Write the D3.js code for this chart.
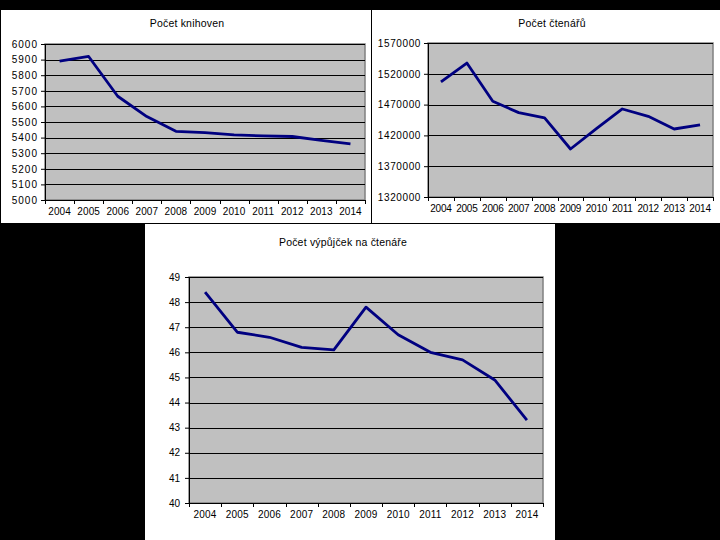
<!DOCTYPE html>
<html>
<head>
<meta charset="utf-8">
<script src="https://cdn.jsdelivr.net/npm/d3@7"></script>
<style>
  body { margin: 0; background: #000; }
  svg { display: block; font-family: "Liberation Sans", Arial, sans-serif; }
</style>
</head>
<body>
<div id="chart"></div>
<script>
const years = ["2004", "2005", "2006", "2007", "2008", "2009", "2010", "2011", "2012", "2013", "2014"]

// Počet knihoven
const knihovny = [5890, 5920, 5665, 5535, 5440, 5432, 5418, 5411, 5407, 5382, 5360]
const knihovnyTicks = [5000, 5100, 5200, 5300, 5400, 5500, 5600, 5700, 5800, 5900, 6000]

// Počet čtenářů
const ctenari = [1506700, 1537500, 1475400, 1457000, 1448300, 1397900, 1431000, 1462900, 1451000, 1430400, 1436900]
const ctenariTicks = [1320000, 1370000, 1420000, 1470000, 1520000, 1570000]

// Počet výpůjček na čtenáře
const vypujcky = [48.4, 46.8, 46.6, 46.2, 46.1, 47.8, 46.7, 46.0, 45.7, 44.9, 43.3]
const vypujckyTicks = [40, 41, 42, 43, 44, 45, 46, 47, 48, 49]

const svg = d3.select("#chart")
	.append("svg")
	.attr("width", 720)
	.attr("height", 540)

svg.append("rect")
	.attr("width", 720)
	.attr("height", 540)
	.attr("fill", "#000")

function drawPanel(cfg) {
	const box = cfg.box, plot = cfg.plot

	svg.append("rect")
		.attr("x", box.x).attr("y", box.y)
		.attr("width", box.w).attr("height", box.h)
		.attr("fill", "#fff")

	svg.append("text")
		.attr("x", cfg.titleX)
		.attr("y", cfg.titleY)
		.attr("text-anchor", "middle")
		.style("font-size", "10.5px")
		.style("letter-spacing", "0.2px")
		.text(cfg.title)

	const g = svg.append("g")
		.attr("transform", `translate(${plot.x},${plot.y})`)

	const w = plot.w, h = plot.h

	const x = d3.scaleBand()
		.domain(years)
		.range([0, w])
		.padding(0)

	const y = d3.scaleLinear()
		.domain(d3.extent(cfg.ticks))
		.range([h, 0])

	g.append("rect")
		.attr("width", w)
		.attr("height", h)
		.attr("fill", "#c0c0c0")
		.attr("stroke", "#808080")
		.attr("stroke-width", 1.5)

	// gridlines
	g.selectAll(".grid")
		.data(cfg.ticks.slice(1))
		.enter().append("line")
		.attr("class", "grid")
		.attr("x1", 0).attr("x2", w)
		.attr("y1", d => Math.round(y(d)) + 0.5)
		.attr("y2", d => Math.round(y(d)) + 0.5)
		.attr("stroke", "#000")

	const yAxis = d3.axisLeft(y)
		.tickValues(cfg.ticks)
		.tickSize(4)
		.tickPadding(cfg.yPad)
		.tickFormat(d3.format("d"))

	const yg = g.append("g").call(yAxis)
	yg.selectAll("text")
		.style("font-size", "10px")
		.style("letter-spacing", cfg.yLetter)
		.attr("fill", "#000")

	// category labels at band centres, ticks at band edges
	const xAxis = d3.axisBottom(x).tickSize(0).tickPadding(8)
	const xg = g.append("g")
		.attr("transform", `translate(0,${h})`)
		.call(xAxis)
	xg.select(".domain").attr("stroke", "#000")
	xg.selectAll("text")
		.style("font-size", "10px")
		.style("letter-spacing", cfg.xLetter)
		.attr("fill", "#000")

	const edges = years.map(d => x(d)).concat([w])
	xg.selectAll(".edge")
		.data(edges)
		.enter().append("line")
		.attr("class", "edge")
		.attr("x1", d => Math.round(d) + 0.5)
		.attr("x2", d => Math.round(d) + 0.5)
		.attr("y1", 0).attr("y2", 4)
		.attr("stroke", "#000")

	const line = d3.line()
		.x((d, i) => x(years[i]) + x.bandwidth() / 2)
		.y(d => y(d))

	g.append("path")
		.datum(cfg.values)
		.attr("d", line)
		.attr("fill", "none")
		.attr("stroke", "#000080")
		.attr("stroke-width", 2.8)
		.attr("stroke-linejoin", "round")
}

drawPanel({
	title: "Počet knihoven",
	titleX: 187, titleY: 27,
	box: {x: 1, y: 10, w: 370, h: 213},
	plot: {x: 45, y: 44, w: 320, h: 156},
	values: knihovny,
	ticks: knihovnyTicks,
	yPad: 3, yLetter: "1px", xLetter: "0.1px"
})

drawPanel({
	title: "Počet čtenářů",
	titleX: 552, titleY: 27,
	box: {x: 372, y: 10, w: 348, h: 213},
	plot: {x: 428, y: 43, w: 285, h: 154},
	values: ctenari,
	ticks: ctenariTicks,
	yPad: 3, yLetter: "0.6px", xLetter: "-0.2px"
})

drawPanel({
	title: "Počet výpůjček na čtenáře",
	titleX: 343, titleY: 246,
	box: {x: 145, y: 224, w: 410, h: 316},
	plot: {x: 189, y: 277, w: 354, h: 226},
	values: vypujcky,
	ticks: vypujckyTicks,
	yPad: 5, yLetter: "0px", xLetter: "0.2px"
})
</script>
</body>
</html>
